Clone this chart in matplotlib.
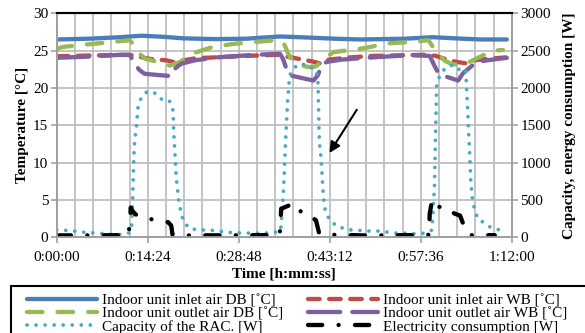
import matplotlib.pyplot as plt
from matplotlib.patches import Rectangle
from matplotlib.ticker import FuncFormatter, MultipleLocator

plt.rcParams['font.family'] = ['Liberation Serif', 'DejaVu Serif']

# time axis in minutes
t_db_in = [0, 5, 10, 13.4, 17, 20, 25, 30, 35.3, 40, 44, 48, 55, 59.5, 63, 67, 71.2]
db_in = [26.5, 26.6, 26.8, 27.0, 26.85, 26.65, 26.55, 26.6, 26.9, 26.75, 26.6, 26.5, 26.6, 26.8, 26.65, 26.5, 26.5]

t_wb_in = [0, 5, 11.5, 13, 14.7, 17.4, 18.4, 20, 22, 25, 30, 35, 37, 39, 40.5, 41.6, 43, 46.4, 50, 58.5,
           60, 61, 63.2, 64.8, 66, 68, 71]
wb_in = [24.25, 24.35, 24.45, 24.2, 23.9, 23.7, 23.5, 23.7, 24.0, 24.1, 24.3, 24.45, 24.1, 23.8, 23.55, 23.3,
         23.8, 24.1, 24.3, 24.45, 24.3, 24.0, 23.5, 23.3, 23.7, 23.9, 24.1]

t_db_out = [0, 1, 5.5, 8.7, 11.5, 12.1, 13.1, 14.0, 15.5, 17.9, 19.5, 22.1, 24.7, 27.9, 31, 34.8, 35.8, 36.9,
            37.9, 38.7, 40, 41, 42.1, 43.7, 48, 52.7, 55.9, 58.8, 60.3, 61.5, 62.5, 64, 65.3, 67.5, 69, 70.6]
db_out = [25.25, 25.5, 25.9, 26.15, 26.4, 25.9, 24.6, 23.9, 23.6, 23.0, 23.5, 24.8, 25.5, 25.9, 26.15, 26.4,
          26.2, 24.1, 23.5, 23.0, 22.8, 22.9, 23.7, 24.8, 25.25, 26.0, 26.15, 26.4, 24.5, 23.6, 23.2, 23.1,
          23.5, 24.4, 25.0, 25.1]

t_wb_out = [0, 5, 10.2, 11.6, 12.3, 13.1, 13.9, 16.6, 18.1, 18.7, 19.7, 21.8, 25.3, 30.5, 35.3, 35.8, 36.4,
            36.9, 37.4, 39.0, 40.6, 41.3, 41.9, 42.7, 45.0, 49.0, 55.9, 59.0, 59.8, 60.3, 61.7, 63.5, 64.3,
            65.3, 66.4, 68.0, 71.2]
wb_out = [24.05, 24.2, 24.45, 24.4, 23.25, 22.4, 21.9, 21.7, 21.6, 22.6, 23.25, 23.7, 24.1, 24.4, 24.6, 23.9,
          22.4, 21.7, 21.6, 21.3, 21.0, 21.7, 23.0, 23.5, 23.8, 24.05, 24.4, 24.3, 22.9, 22.1, 21.5, 21.0,
          22.0, 22.7, 23.5, 23.7, 24.05]

t_cap = [0, 1.3, 2.4, 3.6, 4.9, 6.1, 7.4, 8.6, 10.0, 11.3,
         11.8, 11.95, 12.07, 12.23, 12.34, 12.6, 12.86, 13.4, 14.2, 15.35,
         16.4, 17.8, 18.4, 18.5, 18.7, 18.9, 19.3, 19.6, 20.0, 20.9,
         22.1, 23.1, 24.5, 25.6, 26.8, 28.3, 29.5, 30.8, 32.0, 33.5,
         35.0, 35.4, 35.55, 35.7, 35.8, 35.9, 36.2, 36.5, 36.7, 36.9,
         37.7, 38.7, 39.9, 40.9, 41.3, 41.35, 41.5, 41.6, 41.77, 42.0,
         42.1, 42.25, 42.5, 43.2, 44.5, 45.6, 46.8, 48.3, 49.5, 51.1,
         52.4, 53.7, 54.8, 56.1, 57.2, 58.4, 59.3, 59.45, 59.55, 59.65,
         59.75, 59.9, 60.1, 60.6, 61.5, 62.7, 63.6, 64.7, 64.83, 65.03,
         65.19, 65.35, 65.5, 65.77, 66.14, 66.6, 67.7, 68.8, 70.1]
cap = [100, 95, 90, 75, 65, 60, 50, 40, 40, 55,
       95, 300, 720, 1140, 1300, 1480, 1745, 1880, 1945, 1945,
       1855, 1835, 1700, 1410, 1120, 807, 495, 360, 227, 125,
       103, 100, 95, 85, 70, 62, 58, 58, 58, 60,
       75, 85, 230, 375, 540, 680, 1300, 1800, 2030, 2180,
       2280, 2330, 2280, 2260, 2140, 2000, 1390, 1230, 1100, 807,
       650, 495, 350, 227, 140, 120, 95, 93, 85, 85,
       70, 58, 58, 50, 50, 58, 95, 230, 385, 530,
       670, 1300, 2035, 2170, 2270, 2310, 2250, 2250, 2000, 1680,
       1340, 1075, 760, 500, 360, 250, 190, 125, 100]

t_el = [0, 11.3, 11.6, 11.7, 12.1, 12.8, 14.0, 16.4, 17.6, 18.1,
        18.2, 18.3, 20.7, 32.9, 35.2, 35.35, 35.5, 36.8, 37.0, 37.7,
        39.0, 41.0, 41.5, 42.1, 44.8, 48.3, 56.1, 58.9, 59.0, 59.4,
        61.1, 62.2, 63.0, 63.8, 64.7, 65.5, 69.3]
el = [27, 30, 200, 400, 340, 285, 260, 220, 205, 160,
      107, 40, 27, 30, 35, 100, 385, 430, 360, 350,
      350, 230, 60, 35, 35, 27, 30, 35, 317, 510,
      360, 350, 317, 293, 93, 30, 30]

x_ticks = [0, 14.4, 28.8, 43.2, 57.6, 72]


def hms(v, pos):
    s = int(round(v * 60))
    return f"{s // 3600}:{(s % 3600) // 60:02d}:{s % 60:02d}"


W, H = 585, 333
fig = plt.figure(figsize=(W / 100, H / 100), dpi=100)
ax = fig.add_axes([0.097, 0.287, 0.778, 0.673])
ax2 = ax.twinx()

lw = 3.1
l1, = ax.plot(t_db_in, db_in, color='#4a7ebb', lw=lw, solid_capstyle='round',
              label='Indoor unit inlet air DB [˚C]')
l2, = ax.plot(t_wb_in, wb_in, color='#be4b48', lw=lw, dash_capstyle='round',
              linestyle=(0, (2.7, 2.2)), label='Indoor unit inlet air WB [˚C]')
l3, = ax.plot(t_db_out, db_out, color='#98b954', lw=lw, dash_capstyle='round',
              linestyle=(0, (3.6, 3.5)), label='Indoor unit outlet air DB [˚C]')
l4, = ax.plot(t_wb_out, wb_out, color='#7d60a0', lw=lw, dash_capstyle='round',
              linestyle=(0, (7.5, 2.8)), label='Indoor unit outlet air WB [˚C]')
l5, = ax2.plot(t_cap, cap, color='#46aac5', lw=2.7, dash_capstyle='round',
               linestyle=(0, (0.01, 2.4)), label='Capacity of the RAC. [W]')
l6, = ax2.plot(t_el, el, color='black', lw=lw, dash_capstyle='round',
               linestyle=(0, (3.3, 3.8, 0.01, 3.8)), label='Electricity consumption [W]')

ax.set_xlim(0, 72)
ax.set_ylim(0, 30)
ax2.set_ylim(0, 3000)
ax.set_xticks(x_ticks)
ax.xaxis.set_minor_locator(MultipleLocator(2.88))
ax.xaxis.set_major_formatter(FuncFormatter(hms))
ax.set_yticks(range(0, 31, 5))
ax2.set_yticks(range(0, 3001, 500))

grid_c = '#bfbfbf'
ax.grid(True, which='both', axis='x', color=grid_c, lw=1.3)
ax.grid(True, which='major', axis='y', color=grid_c, lw=1.3)
ax.set_axisbelow(True)

for a in (ax, ax2):
    for s in ('left', 'right', 'bottom'):
        a.spines[s].set_color('#a0a0a0')
        a.spines[s].set_linewidth(1.3)
    a.spines['top'].set_color('black')
    a.spines['top'].set_linewidth(1.5)
    a.tick_params(which='major', direction='out', length=4, width=1.2, color='#a0a0a0',
                  labelsize=11, pad=2)
ax.tick_params(axis='x', which='minor', length=0)
ax.tick_params(axis='x', which='major', pad=6)

ax.set_xlabel('Time [h:mm:ss]', fontsize=11, fontweight='bold', labelpad=2)
ax.set_ylabel('Temperature [°C]', fontsize=11, fontweight='bold', labelpad=3)
ax2.set_ylabel('Capacity, energy consumption [W]', fontsize=11, fontweight='bold', labelpad=9)

ax.annotate('', xy=(42.9, 11.0), xytext=(47.7, 17.4),
            arrowprops=dict(arrowstyle='-|>', color='black', lw=1.5, mutation_scale=16))

# legend box runs past the right and bottom edges of the picture
fig.patches.append(Rectangle((11 / W, -0.1), 1.0, (H - 286) / H + 0.1, transform=fig.transFigure,
                             fill=False, edgecolor='black', lw=1.5))
fig.legend([l1, l3, l5, l2, l4, l6],
           [h.get_label() for h in (l1, l3, l5, l2, l4, l6)],
           ncol=2, loc='upper left', bbox_to_anchor=(27 / W, 1 - 294 / H),
           fontsize=11, frameon=False,
           handlelength=4.6, handletextpad=0.3, columnspacing=1.64,
           labelspacing=-0.05, borderpad=0.0, borderaxespad=0.0)

fig.savefig('out.png', dpi=100)
